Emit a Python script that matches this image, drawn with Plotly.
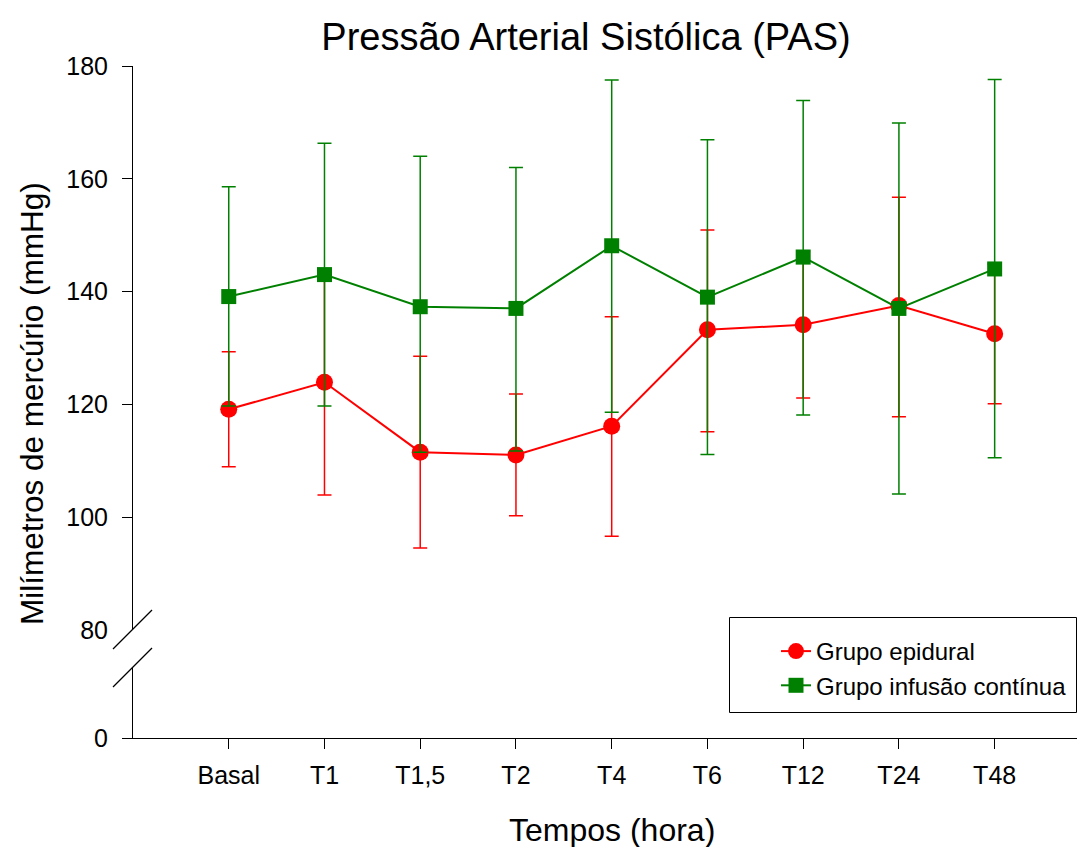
import plotly.graph_objects as go

categories = ["Basal", "T1", "T1,5", "T2", "T4", "T6", "T12", "T24", "T48"]

epidural_mean = [119.1, 123.9, 111.5, 111.0, 116.1, 133.2, 134.1, 137.5, 132.5]
epidural_upper = [129.3, 143.9, 128.5, 121.8, 135.5, 150.9, 147.1, 156.7, 144.9]
epidural_lower = [108.9, 103.9, 94.5, 100.2, 96.6, 115.1, 121.1, 117.8, 120.1]

infusao_mean = [139.1, 143.0, 137.3, 137.0, 148.1, 139.0, 146.1, 137.0, 144.0]
infusao_upper = [158.6, 166.3, 164.0, 162.0, 177.5, 166.9, 173.9, 169.9, 177.6]
infusao_lower = [119.7, 119.7, 111.5, 111.7, 118.6, 111.1, 118.1, 104.1, 110.5]

upper_ticks = [100, 120, 140, 160, 180]

FONT = "Liberation Sans, Arial, sans-serif"
RED = "#FF0000"
GREEN = "#008000"

W, H = 1077, 847
L, R, T, B = 133, 0, 66, 109
PW = W - L - R
PH = H - T - B


def px_to_paper_x(px):
    return (px - L) / PW


def px_to_paper_y(py):
    return (H - B - py) / PH


def err(mean, up, lo):
    return ([u - m for u, m in zip(up, mean)], [m - l for m, l in zip(mean, lo)])


e_up, e_lo = err(epidural_mean, epidural_upper, epidural_lower)
i_up, i_lo = err(infusao_mean, infusao_upper, infusao_lower)

fig = go.Figure()
fig.add_trace(go.Scatter(
    x=categories, y=epidural_mean, name="Grupo epidural",
    mode="lines+markers", xaxis="x", yaxis="y",
    line=dict(color=RED, width=2),
    marker=dict(symbol="circle", size=17, color=RED),
    error_y=dict(type="data", array=e_up, arrayminus=e_lo, symmetric=False,
                 color=RED, thickness=1.5, width=7),
))
fig.add_trace(go.Scatter(
    x=categories, y=infusao_mean, name="Grupo infusão contínua",
    mode="lines+markers", xaxis="x", yaxis="y",
    line=dict(color=GREEN, width=2),
    marker=dict(symbol="square", size=15, color=GREEN),
    error_y=dict(type="data", array=i_up, arrayminus=i_lo, symmetric=False,
                 color=GREEN, thickness=1.5, width=7),
))

upper_bottom = px_to_paper_y(629.75)
lower_top = px_to_paper_y(667.5)

tickfont = dict(family=FONT, size=25, color="black")
axis_common = dict(showgrid=False, zeroline=False, showline=True, linecolor="black",
                   linewidth=1, ticks="outside", ticklen=10, tickwidth=1, tickcolor="black",
                   tickfont=tickfont)

fig.update_layout(
    width=W, height=H,
    margin=dict(l=L, r=R, t=T, b=B, pad=0),
    paper_bgcolor="white", plot_bgcolor="white",
    font=dict(family=FONT, color="black"),
    title=dict(text="Pressão Arterial Sistólica (PAS)", font=dict(family=FONT, size=38, color="black"),
               xref="paper", x=px_to_paper_x(586), xanchor="center",
               yref="container", y=1 - 37 / H, yanchor="middle"),
    xaxis=dict(type="category", categoryorder="array", categoryarray=categories,
               range=[-1, 8.86], anchor="y2", domain=[0, 1], ticklabelstandoff=5, **axis_common),
    yaxis=dict(range=[80, 180], domain=[upper_bottom, 1], anchor="x",
               tickvals=upper_ticks, ticklabelstandoff=9, **axis_common),
    yaxis3=dict(range=[80, 180], overlaying="y", anchor="x", side="left",
                tickvals=[80], showgrid=False, zeroline=False, showline=False,
                ticks="outside", ticklen=10, tickcolor="rgba(0,0,0,0)",
                ticklabelstandoff=9, tickfont=tickfont),
    yaxis2=dict(range=[0, 12.5], domain=[0, lower_top], anchor="x",
                tickvals=[0], ticklabelstandoff=9, **axis_common),
    showlegend=True,
    legend=dict(x=px_to_paper_x(776), y=px_to_paper_y(629), xanchor="left", yanchor="top",
                xref="paper", yref="paper",
                bgcolor="rgba(0,0,0,0)", borderwidth=0,
                font=dict(family=FONT, size=24, color="black"),
                tracegroupgap=0),
)

# dummy traces so that the extra axes are drawn
fig.add_trace(go.Scatter(x=[categories[0]], y=[None], xaxis="x", yaxis="y2",
                         showlegend=False, hoverinfo="skip", mode="markers"))
fig.add_trace(go.Scatter(x=[categories[0]], y=[None], xaxis="x", yaxis="y3",
                         showlegend=False, hoverinfo="skip", mode="markers"))

# legend frame
fig.add_shape(type="rect", xref="paper", yref="paper",
              x0=px_to_paper_x(729.5), x1=px_to_paper_x(1076.5),
              y0=px_to_paper_y(712.5), y1=px_to_paper_y(617.5),
              line=dict(color="black", width=1), fillcolor="rgba(0,0,0,0)", layer="above")

# axis break marks
for (xa, ya, xb, yb) in [(113, 649, 152, 610), (113, 687, 152, 648)]:
    fig.add_shape(type="line", xref="paper", yref="paper",
                  x0=px_to_paper_x(xa), y0=px_to_paper_y(ya),
                  x1=px_to_paper_x(xb), y1=px_to_paper_y(yb),
                  line=dict(color="black", width=1.2), layer="above")

# axis titles
fig.add_annotation(text="Tempos (hora)", xref="paper", yref="paper",
                   x=px_to_paper_x(612), y=px_to_paper_y(830), xanchor="center", yanchor="middle",
                   showarrow=False, font=dict(family=FONT, size=32, color="black"))
fig.add_annotation(text="Milímetros de mercúrio (mmHg)", xref="paper", yref="paper",
                   x=px_to_paper_x(32), y=px_to_paper_y(404), xanchor="center", yanchor="middle",
                   textangle=-90, showarrow=False, font=dict(family=FONT, size=31.5, color="black"))

fig.write_html("out.html", config={"displayModeBar": False},
               post_script="document.body.style.margin='0';document.body.style.overflow='hidden';")
